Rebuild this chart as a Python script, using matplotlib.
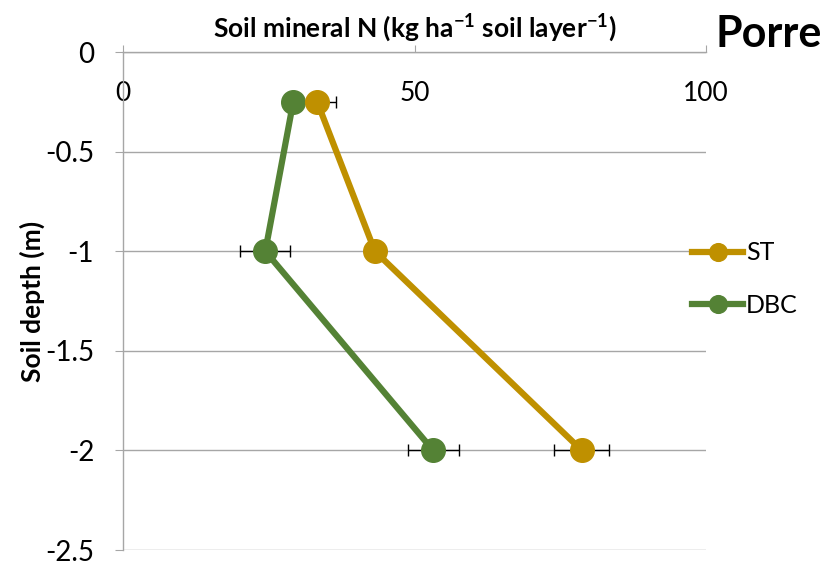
import matplotlib.pyplot as plt
import numpy as np

plt.rcParams['font.family'] = ['Lato', 'DejaVu Sans']
plt.rcParams['mathtext.fontset'] = 'custom'
plt.rcParams['mathtext.rm'] = 'Lato'
plt.rcParams['mathtext.bf'] = 'Lato:bold'

# datos
depth = [-0.25, -1.0, -2.0]
st_n = [33.3, 43.2, 78.7]
st_err = [3.3, 1.0, 4.7]
dbc_n = [29.2, 24.4, 53.2]
dbc_err = [1.0, 4.3, 4.4]
x_ticks = [0, 50, 100]
y_ticks = [0, -0.5, -1, -1.5, -2, -2.5]

c_st = '#BF9000'
c_dbc = '#548235'
c_grid = '#A6A6A6'

fig = plt.figure(figsize=(8.23, 5.64), dpi=100)
ax = fig.add_axes([0.1495, 0.0248, 0.7083, 0.883])

ax.set_xlim(0, 100)
ax.set_ylim(-2.5, 0)

# barras de error por debajo de todo
ax.errorbar(st_n, depth, xerr=st_err, fmt='none', ecolor='black',
            elinewidth=1, capsize=4.5, capthick=1, zorder=2)
ax.errorbar(dbc_n, depth, xerr=dbc_err, fmt='none', ecolor='black',
            elinewidth=1, capsize=4.5, capthick=1, zorder=2)

ax.plot(dbc_n, depth, color=c_dbc, lw=4.5, marker='o', ms=17,
        label='DBC', zorder=3)
ax.plot(st_n, depth, color=c_st, lw=4.5, marker='o', ms=17,
        label='ST', zorder=4)

ax.set_yticks(y_ticks)
ax.set_yticklabels(['0', '-0.5', '-1', '-1.5', '-2', '-2.5'])
ax.set_xticks(x_ticks)
ax.xaxis.tick_top()
ax.tick_params(axis='y', direction='out', length=5.8, color=c_grid,
               labelsize=20, pad=15)
ax.tick_params(axis='x', direction='out', length=5, color=c_grid,
               labelsize=19, pad=-44)
ax.grid(axis='y', color=c_grid, lw=1)
ax.set_axisbelow(True)

for s in ['bottom', 'right']:
    ax.spines[s].set_visible(False)
for s in ['top', 'left']:
    ax.spines[s].set_color(c_grid)
    ax.spines[s].set_linewidth(1)

ax.xaxis.set_label_position('top')
ax.set_xlabel(r'Soil mineral N (kg ha$^{\mathbf{-1}}$ soil layer$^{\mathbf{-1}}$)',
              fontsize=19, fontweight='bold', labelpad=6)
ax.set_ylabel('Soil depth (m)', fontsize=19, fontweight='bold')
ax.yaxis.set_label_coords(-0.134, 0.5)

fig.text(0.869, 0.94, 'Porre', fontsize=31, fontweight='bold',
         ha='left', va='center')

handles, labels = ax.get_legend_handles_labels()
fig.legend(handles[::-1], labels[::-1], loc='upper left',
           bbox_to_anchor=(0.8135, 0.612), frameon=False, fontsize=18,
           handlelength=2.05, handletextpad=0.1, labelspacing=1.17,
           markerscale=0.75)

plt.savefig('out.png', dpi=100)
